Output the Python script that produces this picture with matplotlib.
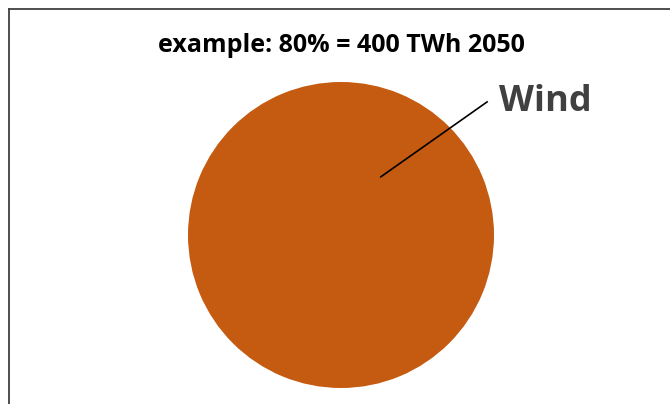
import matplotlib.pyplot as plt
from matplotlib.lines import Line2D

# chart data
labels = ["Wind"]
shares = [80]
colors = ["#C55A11"]
title = "example: 80% = 400 TWh 2050"

W, H = 670, 404
fig = plt.figure(figsize=(W / 100, H / 100), dpi=100)
fig.patch.set_facecolor("white")

# pie centre / radius in pixels
cx, cy, r = 341, 235, 153
ax = fig.add_axes([(cx - r) / W, (H - cy - r) / H, 2 * r / W, 2 * r / H])
ax.pie(shares, colors=colors, radius=1, startangle=90, counterclock=False,
       wedgeprops=dict(linewidth=0))
ax.set_xlim(-1, 1)
ax.set_ylim(-1, 1)
ax.set_aspect("equal")
ax.axis("off")

# leader line and label
ax.plot([0.26, 0.955], [0.38, 0.87], color="black", lw=1.2, clip_on=False)
ax.text(1.03, 0.87, labels[0], fontsize=26, fontweight="bold",
        color="#404040", family="Open Sans", ha="left", va="center",
        clip_on=False)

fig.text(cx / W, 1 - 52 / H, title, ha="center", va="baseline",
         fontsize=18, fontweight="bold", family="Open Sans", color="black")

# chart-area border (left and top edges visible)
fig.add_artist(Line2D([8.5 / W, 8.5 / W], [0, 1 - 8.5 / H],
                      transform=fig.transFigure, color="#404040", lw=1.3))
fig.add_artist(Line2D([8.5 / W, 1], [1 - 8.5 / H, 1 - 8.5 / H],
                      transform=fig.transFigure, color="#404040", lw=1.3))

fig.savefig("out.png", dpi=100)
